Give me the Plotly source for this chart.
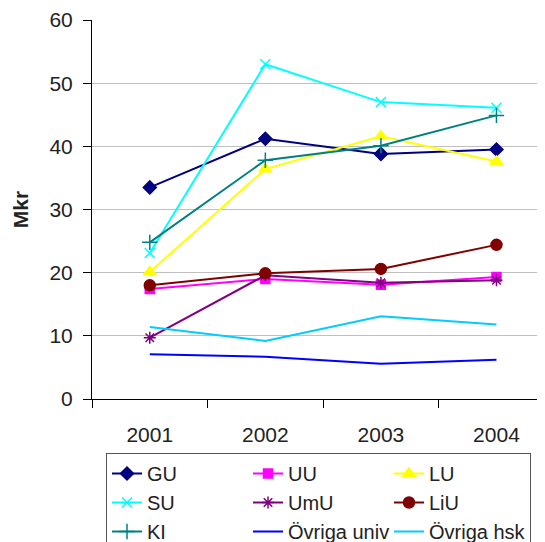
import plotly.graph_objects as go

years = ["2001", "2002", "2003", "2004"]
names = ["GU", "UU", "LU", "SU", "UmU", "LiU", "KI", "Övriga univ", "Övriga hsk"]
GU = [33.5, 41.2, 38.8, 39.5]
UU = [17.4, 19.0, 18.1, 19.3]
LU = [20.1, 36.4, 41.6, 37.6]
SU = [23.1, 53.0, 47.0, 46.1]
UmU = [9.7, 19.6, 18.4, 18.8]
LiU = [18.0, 19.9, 20.6, 24.4]
KI = [24.8, 37.8, 40.1, 44.9]
OvrUniv = [7.1, 6.7, 5.6, 6.2]
OvrHsk = [11.4, 9.2, 13.1, 11.8]
series = [GU, UU, LU, SU, UmU, LiU, KI, OvrUniv, OvrHsk]

colors = ["#000080", "#FF00FF", "#FFFF00", "#00FFFF", "#800080", "#800000", "#008080", "#0000FF", "#00CCFF"]
symbols = ["diamond", "square", "triangle-up", "x-thin-open", "asterisk-open", "circle", "cross-thin-open", None, None]
sizes = [10, 9, 11, 10, 10, 11, 11, 0, 0]

fig = go.Figure()
for n, s, c, sym, sz in zip(names, series, colors, symbols, sizes):
    if sym is None:
        fig.add_trace(go.Scatter(x=years, y=s, name=n, mode="lines",
                                 line=dict(color=c, width=2)))
    else:
        fig.add_trace(go.Scatter(x=years, y=s, name=n, mode="lines+markers",
                                 line=dict(color=c, width=2),
                                 marker=dict(symbol=sym, size=sz, color=c,
                                             line=dict(color=c, width=1.5))))

font = "Liberation Sans, Arial, Helvetica, sans-serif"
# page has an 8px body margin; figure is sized to fill the rest of the window
fig.update_layout(
    width=537, height=534,
    margin=dict(l=84, r=0, t=12, b=143, autoexpand=False),
    paper_bgcolor="white", plot_bgcolor="white",
    font=dict(family=font, size=21, color="#222"),
    showlegend=True,
    legend=dict(orientation="h", x=(106 - 92) / 453, xanchor="left",
                y=-(453 - 399) / 379, yanchor="top",
                entrywidth=96, entrywidthmode="pixels",
                bordercolor="#555", borderwidth=1, font=dict(size=20, color="#222"),
                tracegroupgap=0, itemwidth=30),
    xaxis=dict(type="category", range=[-0.5, 3.42], showline=True, linecolor="black",
               linewidth=1, ticks="outside", ticklen=8, tickson="boundaries",
               tickcolor="black", showgrid=False, tickfont=dict(size=21),
               ticklabelstandoff=17),
    yaxis=dict(range=[0, 60], dtick=10, showline=True, linecolor="black", linewidth=1,
               ticks="outside", ticklen=8, tickcolor="black", showgrid=True,
               gridcolor="#c0c0c0", gridwidth=1, zeroline=False,
               ticklabelstandoff=6,
               title=dict(text="<b>Mkr</b>", font=dict(size=21), standoff=15),
               tickfont=dict(size=21)),
)
fig.write_html("out.html")
